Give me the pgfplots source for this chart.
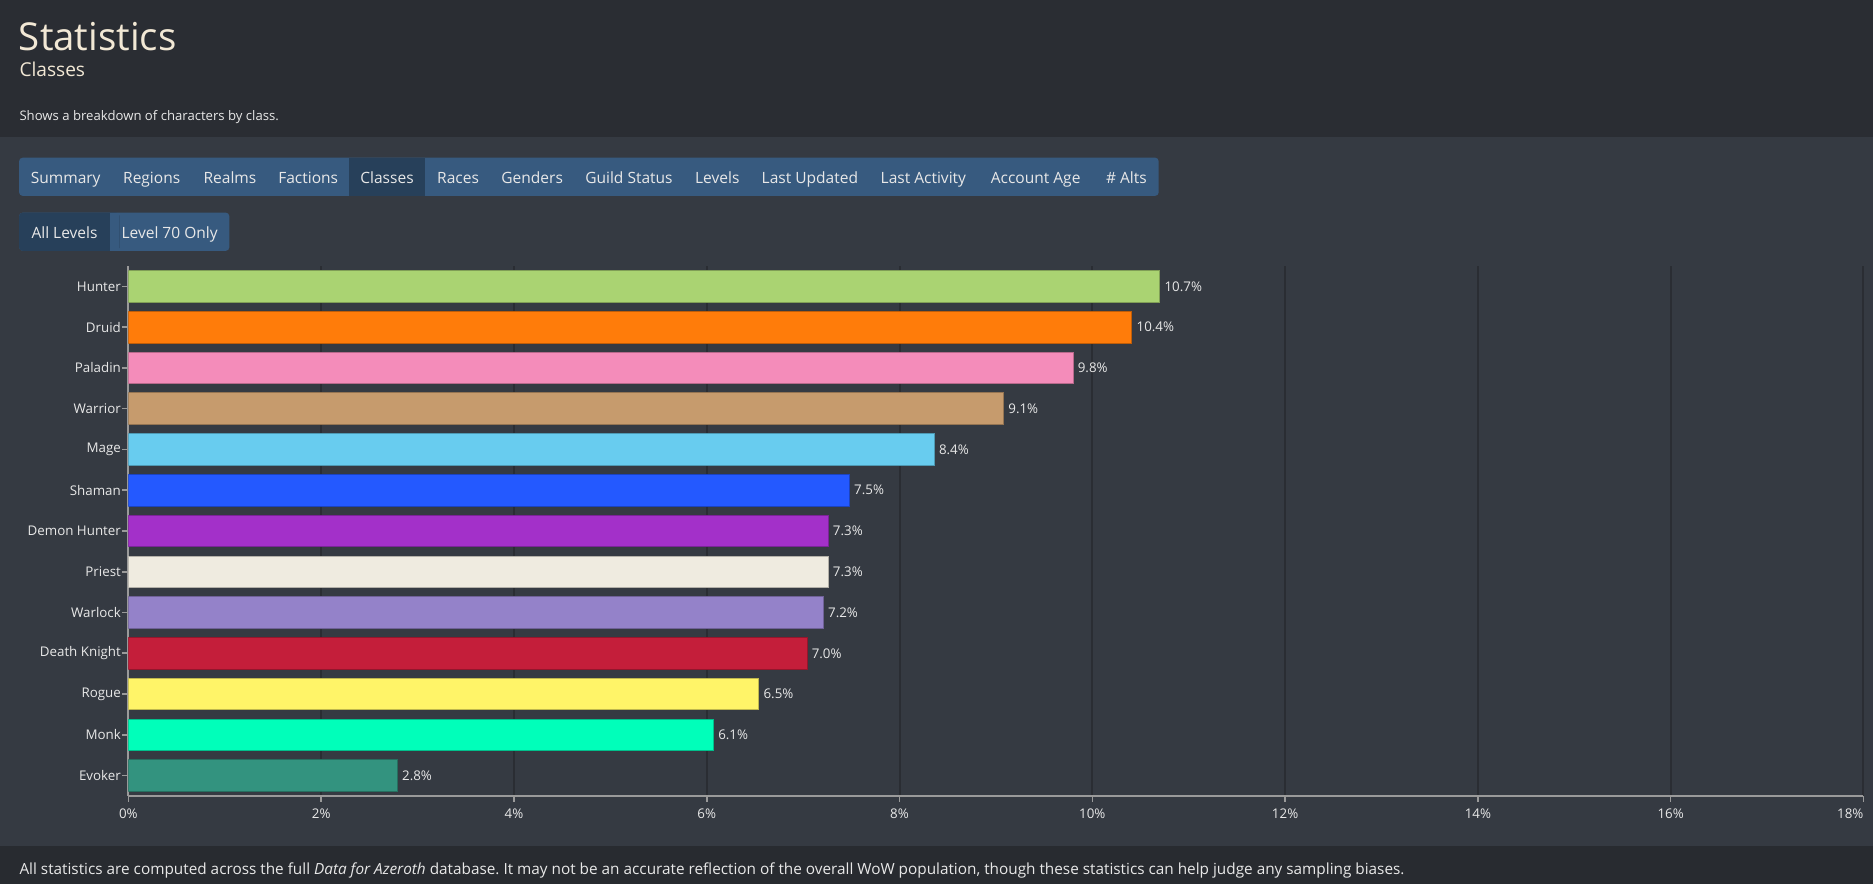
\documentclass[border=0pt]{standalone}
\usepackage{pgfplots}
\pgfplotsset{compat=1.18}
\usepackage{fontspec}
\setmainfont{Open Sans}
\frenchspacing

\definecolor{hdrbg}{HTML}{2A2D33}
\definecolor{pagebg}{HTML}{353A42}
\definecolor{ftrbg}{HTML}{282B30}
\definecolor{tabbg}{HTML}{375A7F}
\definecolor{tabact}{HTML}{27405A}
\definecolor{titlefg}{HTML}{F2E8D5}
\definecolor{txt}{HTML}{E8E8E8}
\definecolor{gridc}{HTML}{2A2D33}
\definecolor{axc}{HTML}{9A9A9A}
% class colours
\definecolor{cHunter}{HTML}{AAD372}
\definecolor{cDruid}{HTML}{FF7C0A}
\definecolor{cPaladin}{HTML}{F48CBA}
\definecolor{cWarrior}{HTML}{C69B6D}
\definecolor{cMage}{HTML}{68CCEF}
\definecolor{cShaman}{HTML}{2459FF}
\definecolor{cDH}{HTML}{A330C9}
\definecolor{cPriest}{HTML}{EFEBE0}
\definecolor{cWarlock}{HTML}{9482C9}
\definecolor{cDK}{HTML}{C41E3A}
\definecolor{cRogue}{HTML}{FFF468}
\definecolor{cMonk}{HTML}{00FFBA}
\definecolor{cEvoker}{HTML}{33937F}

\newcommand{\tab}[2]{\node[anchor=base,inner sep=0,text=txt,font=\fontsize{7.8}{9}\selectfont] at (#1,154) {#2};}

\begin{document}
\begin{tikzpicture}
\begin{scope}[x=0.6pt,y=-0.6pt]
\fill[pagebg] (0,0) rectangle (1568,740);
\fill[hdrbg] (0,0) rectangle (1568,115);
\fill[ftrbg] (0,708) rectangle (1568,740);

% header
\node[anchor=base west,inner sep=0,text=titlefg,font=\fontsize{19.3}{22}\selectfont] at (15.5,42) {Statistics};
\node[anchor=base west,inner sep=0,text=titlefg,font=\fontsize{9.6}{11}\selectfont] at (16,64) {Classes};
\node[anchor=base west,inner sep=0,text=txt,font=\fontsize{6.6}{8}\selectfont] at (16,101) {Shows a breakdown of characters by class.};

% tabs
\fill[tabbg,rounded corners=1.8pt] (16,132) rectangle (970,164);
\fill[tabact] (292,132) rectangle (356,164);
\tab{55}{Summary}
\tab{127}{Regions}
\tab{192.5}{Realms}
\tab{258}{Factions}
\tab{324}{Classes}
\tab{383.5}{Races}
\tab{445.5}{Genders}
\tab{526.5}{Guild Status}
\tab{600.5}{Levels}
\tab{678}{Last Updated}
\tab{773}{Last Activity}
\tab{867}{Account Age}
\tab{943}{\# Alts}

% level buttons
\fill[tabbg,rounded corners=1.8pt] (16,178) rectangle (192,210);
\fill[tabact,rounded corners=1.8pt] (16,178) rectangle (100,210);
\fill[tabbg] (92,178) rectangle (100,210);
\node[anchor=base,inner sep=0,text=txt,font=\fontsize{7.8}{9}\selectfont] at (54,200) {All Levels};
\node[anchor=base,inner sep=0,text=txt,font=\fontsize{7.8}{9}\selectfont] at (142,200) {Level 70 Only};

% footer
\node[anchor=base west,inner sep=0,text=txt,font=\fontsize{7.7}{9}\selectfont] at (16,732) {All statistics are computed across the full \textit{Data for Azeroth} database. It may not be an accurate reflection of the overall WoW population, though these statistics can help judge any sampling biases.};
\end{scope}

\begin{axis}[
  at={(64.5pt,-399.8pt)}, anchor=south west,
  scale only axis, width=871.5pt, height=266.2pt,
  xbar, bar width=15.9pt, bar shift=0pt,
  xmin=0, xmax=18, ymin=-0.5, ymax=12.5,
  xtick={0,2,...,18},
  xticklabel={\ifnum\ticknum=9\relax\llap{\pgfmathprintnumber{\tick}\%}\else\pgfmathprintnumber{\tick}\%\fi},
  ytick={0,...,12},
  yticklabels={Evoker,Monk,Rogue,Death Knight,Warlock,Priest,Demon Hunter,Shaman,Mage,Warrior,Paladin,Druid,Hunter},
  axis x line*=bottom, axis y line*=left,
  axis line style={draw=axc,line width=1pt},
  tick style={draw=axc,line width=0.8pt},
  tick align=outside, major tick length=3pt,
  xmajorgrids, grid style={draw=gridc,line width=1pt},
  /pgf/number format/assume math mode=true,
  ticklabel style={text=txt,font=\fontsize{6.7}{8}\selectfont},
  yticklabel style={inner xsep=0.6pt},
  point meta=x,
  nodes near coords={\pgfmathprintnumber[fixed,fixed zerofill,precision=1]{\pgfplotspointmeta}\%},
  nodes near coords style={anchor=west,text=txt,font=\fontsize{6.7}{8}\selectfont,inner xsep=2.2pt},
]
\addplot[fill=cHunter,draw=cHunter!75!black,line width=0.4pt] coordinates {(10.70,12)};
\addplot[fill=cDruid,draw=cDruid!75!black,line width=0.4pt] coordinates {(10.41,11)};
\addplot[fill=cPaladin,draw=cPaladin!75!black,line width=0.4pt] coordinates {(9.80,10)};
\addplot[fill=cWarrior,draw=cWarrior!75!black,line width=0.4pt] coordinates {(9.08,9)};
\addplot[fill=cMage,draw=cMage!75!black,line width=0.4pt] coordinates {(8.36,8)};
\addplot[fill=cShaman,draw=cShaman!75!black,line width=0.4pt] coordinates {(7.48,7)};
\addplot[fill=cDH,draw=cDH!75!black,line width=0.4pt] coordinates {(7.26,6)};
\addplot[fill=cPriest,draw=cPriest!75!black,line width=0.4pt] coordinates {(7.26,5)};
\addplot[fill=cWarlock,draw=cWarlock!75!black,line width=0.4pt] coordinates {(7.21,4)};
\addplot[fill=cDK,draw=cDK!75!black,line width=0.4pt] coordinates {(7.04,3)};
\addplot[fill=cRogue,draw=cRogue!75!black,line width=0.4pt] coordinates {(6.54,2)};
\addplot[fill=cMonk,draw=cMonk!75!black,line width=0.4pt] coordinates {(6.07,1)};
\addplot[fill=cEvoker,draw=cEvoker!75!black,line width=0.4pt] coordinates {(2.79,0)};
\end{axis}
\pgfresetboundingbox
\path[use as bounding box] (0,0) rectangle (940.8pt,-444pt);
\end{tikzpicture}
\end{document}
